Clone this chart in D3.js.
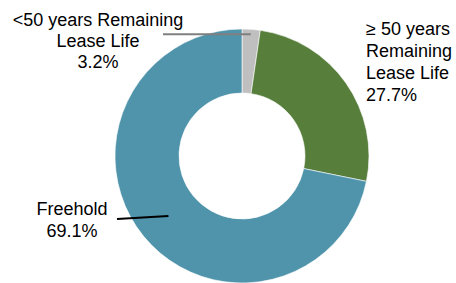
<!DOCTYPE html>
<html>
<head>
<meta charset="utf-8">
<title>Lease life donut</title>
<script src="https://d3js.org/d3.v7.min.js"></script>
<style>
  body { margin: 0; background: #fff; }
  text { font-family: "Liberation Sans", Arial, sans-serif; font-size: 18px; fill: #000; }
</style>
</head>
<body>
<script>
// slice sizes as drawn in the picture (the printed labels differ slightly)
var categories = ["<50 years Remaining Lease Life", "\u2265 50 years Remaining Lease Life", "Freehold"];
var values = [2.3, 25.9, 71.8];
var percentLabels = ["3.2%", "27.7%", "69.1%"];
var labelLines = [
  ["<50 years Remaining", "Lease Life"],
  ["\u2265 50 years", "Remaining", "Lease Life"],
  ["Freehold"]
];
var colors = ["#bfbfbf", "#577e3b", "#4f94ab"];

var width = 456, height = 283;
var cx = 242, cy = 156, outerR = 127, innerR = 63;

var svg = d3.select("body").append("svg")
  .attr("width", width)
  .attr("height", height);

var g = svg.append("g")
  .attr("transform", "translate(" + cx + "," + cy + ")");

var pie = d3.pie().sort(null).value(function(d) { return d; });
var arcs = pie(values);

var arc = d3.arc().innerRadius(innerR).outerRadius(outerR);

g.selectAll("path.slice")
  .data(arcs)
  .enter().append("path")
  .attr("class", "slice")
  .attr("d", arc)
  .attr("fill", function(d, i) { return colors[i]; })
  .attr("stroke", "#fff")
  .attr("stroke-width", 0.6);

// leader line for the small grey slice
var outerArc = d3.arc().innerRadius(122).outerRadius(122);
var pGrey = outerArc.centroid(arcs[0]);
g.append("line")
  .attr("x1", 163 - cx).attr("y1", pGrey[1])
  .attr("x2", pGrey[0]).attr("y2", pGrey[1])
  .attr("stroke", "#7f7f7f")
  .attr("stroke-width", 2);

// leader line for freehold
var pFree = arc.centroid(arcs[2]);
g.append("line")
  .attr("x1", 117 - cx).attr("y1", 219 - cy)
  .attr("x2", pFree[0]).attr("y2", pFree[1])
  .attr("stroke", "#000")
  .attr("stroke-width", 2);

// labels
var labelPos = [
  {x: 98, y: 25.5, anchor: "middle", step: 21.3},
  {x: 366, y: 35, anchor: "start", step: 22},
  {x: 72, y: 215, anchor: "middle", step: 21.5}
];

labelLines.forEach(function(lines, i) {
  var p = labelPos[i];
  var t = svg.append("text")
    .attr("text-anchor", p.anchor);
  lines.concat([percentLabels[i]]).forEach(function(s, j) {
    t.append("tspan")
      .attr("x", p.x)
      .attr("y", p.y + j * p.step)
      .text(s);
  });
});
</script>
</body>
</html>
